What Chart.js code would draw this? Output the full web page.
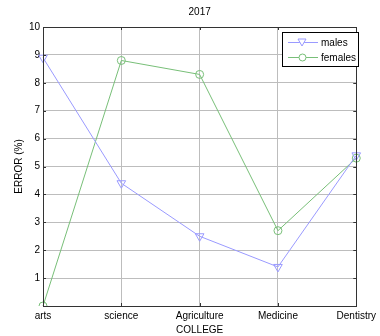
<!DOCTYPE html>
<html><head><meta charset="utf-8">
<script src="https://cdn.jsdelivr.net/npm/chart.js@4.4.1/dist/chart.umd.min.js"></script>
<style>html,body{margin:0;padding:0;background:#fff}#wrap{width:380px;height:336px}</style>
</head><body><div id="wrap"><canvas id="c" width="380" height="336"></canvas></div>
<script>
const categories = ['arts','science','Agriculture','Medicine','Dentistry'];
const males = [8.9, 4.4, 2.5, 1.4, 5.4];
const females = [0, 8.8, 8.3, 2.7, 5.3];
const yTicks = [1,2,3,4,5,6,7,8,9,10];
const titleText = '2017';
const xTitle = 'COLLEGE';
const yTitle = 'ERROR (%)';
const FONT = '"Liberation Sans", Arial, sans-serif';
const maleColor = '#9a9aff';
const femaleColor = '#78bf78';

const frame = {
  id:'frame',
  afterDraw(chart){
    const {ctx, chartArea:a, scales:{x,y}} = chart;
    ctx.save();
    ctx.strokeStyle = '#333'; ctx.lineWidth = 1;
    ctx.strokeRect(Math.round(a.left)+0.5, Math.round(a.top)+0.5, Math.round(a.right-a.left), Math.round(a.bottom-a.top));
    ctx.beginPath();
    yTicks.forEach(v=>{const p=Math.round(y.getPixelForValue(v))+0.5;
      ctx.moveTo(a.left,p);ctx.lineTo(a.left+3,p);ctx.moveTo(a.right,p);ctx.lineTo(a.right-3,p);});
    categories.forEach((c,i)=>{const p=Math.round(x.getPixelForValue(i))+0.5;
      ctx.moveTo(p,a.bottom);ctx.lineTo(p,a.bottom-3);ctx.moveTo(p,a.top);ctx.lineTo(p,a.top+3);});
    ctx.stroke();
    // title
    ctx.fillStyle='#000'; ctx.font='10px '+FONT; ctx.textAlign='center'; ctx.textBaseline='middle';
    ctx.fillText(titleText,(a.left+a.right)/2,12);
    // legend
    const lx=282, ly=32, lw=76, lh=34;
    ctx.fillStyle='#fff'; ctx.fillRect(lx,ly,lw,lh);
    ctx.strokeStyle='#000'; ctx.strokeRect(lx+0.5,ly+0.5,lw,lh);
    const items=[[ 'males',maleColor,'tri'],['females',femaleColor,'circ']];
    items.forEach((it,i)=>{
      const yy=ly+10+i*15;
      ctx.strokeStyle=it[1]; ctx.lineWidth=1;
      ctx.beginPath(); ctx.moveTo(288,yy+0.5); ctx.lineTo(318,yy+0.5); ctx.stroke();
      ctx.beginPath();
      if(it[2]==='tri'){ctx.moveTo(298,yy-3);ctx.lineTo(306,yy-3);ctx.lineTo(302,yy+4);ctx.closePath();}
      else {ctx.arc(302.5,yy+0.5,3.5,0,Math.PI*2);}
      ctx.fillStyle='#fff'; ctx.fill(); ctx.stroke();
      ctx.fillStyle='#000'; ctx.textAlign='left'; ctx.font='10px '+FONT;
      ctx.fillText(it[0],321,yy+1);
    });
    ctx.restore();
  }
};

new Chart(document.getElementById('c'),{
  type:'line',
  data:{labels:categories,datasets:[
    {label:'males',data:males,borderColor:maleColor,borderWidth:1,pointStyle:'triangle',rotation:180,pointRadius:5,pointBorderColor:maleColor,pointBackgroundColor:'rgba(255,255,255,0)',pointBorderWidth:1,tension:0},
    {label:'females',data:females,borderColor:femaleColor,borderWidth:1,pointStyle:'circle',pointRadius:4,pointBorderColor:femaleColor,pointBackgroundColor:'rgba(255,255,255,0)',pointBorderWidth:1,tension:0}
  ]},
  options:{
    responsive:false,animation:false,
    layout:{padding:{top:27,right:18,left:13,bottom:0},autoPadding:false},
    plugins:{legend:{display:false},title:{display:false},tooltip:{enabled:false}},
    scales:{
      x:{type:'category',offset:false,
        grid:{color:'#bdbdbd',lineWidth:1,borderDash:[1,1],drawTicks:false},
        border:{display:false},
        ticks:{color:'#000',font:{family:FONT,size:10},padding:4,maxRotation:0,autoSkip:false},
        title:{display:true,text:xTitle,color:'#000',font:{family:FONT,size:10},padding:{top:0,bottom:0}},
        afterFit(s){s.height=30;}
      },
      y:{min:0,max:10,
        afterBuildTicks(s){s.ticks=yTicks.map(v=>({value:v}));},
        grid:{color:'#bdbdbd',lineWidth:1,borderDash:[1,1],drawTicks:false},
        border:{display:false},
        ticks:{color:'#000',font:{family:FONT,size:10},padding:3},
        title:{display:true,text:yTitle,color:'#000',font:{family:FONT,size:10},padding:{top:0,bottom:0}},
        afterFit(s){s.width=30;}
      }
    }
  },
  plugins:[frame]
});
</script></body></html>
